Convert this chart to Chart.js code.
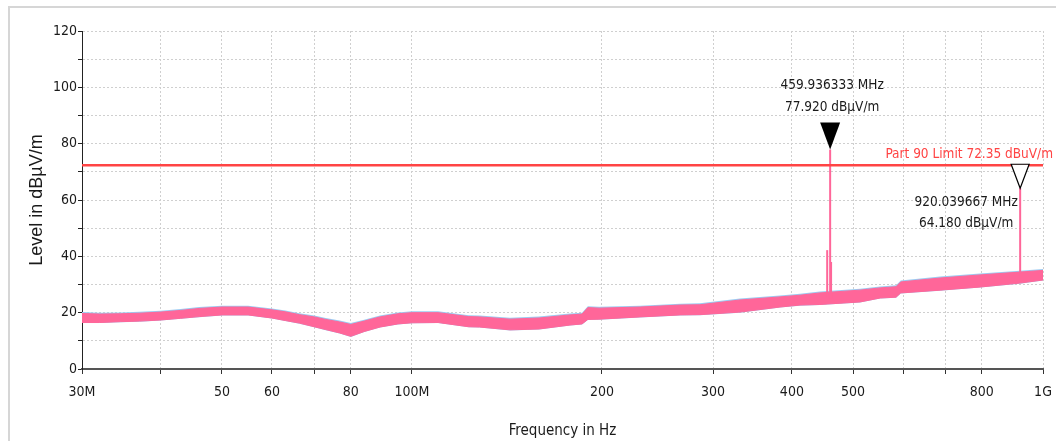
<!DOCTYPE html>
<html>
<head>
<meta charset="utf-8">
<title>Radiated emission scan</title>
<script src="https://cdn.jsdelivr.net/npm/chart.js@4.4.0/dist/chart.umd.min.js"></script>
<style>
  html, body { margin: 0; padding: 0; background: #fff; }
  #wrap { position: relative; width: 1056px; height: 441px; overflow: hidden; }
  #frame { position: absolute; left: 8px; top: 6px; width: 1100px; height: 500px;
           border-left: 2px solid #d6d6d6; border-top: 2px solid #d6d6d6; }
  canvas { position: absolute; left: 0; top: 0; }
</style>
</head>
<body>
<div id="wrap">
  <div id="frame"></div>
  <canvas id="scanChart" width="1056" height="441"></canvas>
</div>
<script>
// frequency axis (MHz) and tick labels
const xTickValues = [30, 40, 50, 60, 70, 80, 100, 200, 300, 400, 500, 600, 700, 800, 1000];
const xTickLabels = ['30M', '', '50', '60', '', '80', '100M', '200', '300', '400', '500', '', '', '800', '1G'];

// noise floor envelope (MHz / dBµV/m)
const scanFreqs = [30, 32, 34.5, 37, 40, 43, 46, 50, 55, 60, 63, 66.3, 70, 73, 76.8, 80, 84, 89, 95, 100,
                   110, 123, 128, 143, 159, 178, 186, 190, 198, 230, 266, 286, 331, 383, 412, 443, 513,
                   552, 585, 595, 687, 795, 919, 1000];
const scanUpper = [19.7, 19.5, 19.6, 19.8, 20.2, 20.8, 21.5, 22.0, 22.0, 21.0, 20.3, 19.3, 18.5, 17.6, 16.7,
                   15.8, 17.0, 18.5, 19.6, 20.0, 20.0, 18.6, 18.5, 17.7, 18.1, 19.2, 19.5, 21.8, 21.6, 22.0,
                   22.7, 22.8, 24.5, 25.6, 26.2, 27.0, 28.0, 28.8, 29.2, 30.9, 32.3, 33.4, 34.4, 35.0];
const scanLower = [16.5, 16.5, 16.8, 17.0, 17.4, 18.0, 18.6, 19.2, 19.2, 18.1, 17.2, 16.3, 15.0, 14.0, 12.8,
                   11.6, 13.3, 14.9, 16.0, 16.4, 16.5, 15.0, 14.9, 13.9, 14.2, 15.6, 16.0, 17.6, 17.7, 18.5,
                   19.2, 19.3, 20.2, 22.0, 22.7, 22.9, 23.8, 25.2, 25.5, 27.0, 28.0, 29.1, 30.5, 31.6];

// narrow emissions sticking out of the floor
const spikeFreqs = [455.0, 459.936333, 461.5, 920.039667];
const spikeBases = [25.0, 25.0, 25.0, 33.0];
const spikeTops = [42.2, 77.92, 38.0, 64.18];

// markers and limit
const markerFreqs = [459.936333, 920.039667];
const markerLevels = [77.92, 64.18];
const limitLevel = 72.35;
const limitText = 'Part 90 Limit 72.35 dBuV/m';

const NARROW = "'Liberation Sans Narrow', 'Arial Narrow', 'DejaVu Sans Condensed', sans-serif";
const PINK = '#ff6699';
const BLUE = '#9ccbf2';
const RED = '#ff4444';

function band(values, shift) {
    return scanFreqs.map(function (f, i) { return { x: f, y: values[i] + shift }; });
}

const datasets = [
    { data: [{ x: 30, y: limitLevel }, { x: 1000, y: limitLevel }], borderColor: RED, borderWidth: 2.5, order: 0 },
    { data: band(scanLower, -0.2), borderColor: BLUE, borderWidth: 0, order: 6 },
    { data: band(scanUpper, 0.5), borderColor: BLUE, backgroundColor: BLUE, borderWidth: 0, fill: '-1', order: 5 },
    { data: band(scanLower, 0), borderColor: PINK, borderWidth: 1, order: 4 },
    { data: band(scanUpper, 0), borderColor: PINK, backgroundColor: PINK, borderWidth: 1, fill: '-1', order: 3 }
];
spikeFreqs.forEach(function (f, i) {
    datasets.push({
        data: [{ x: f, y: spikeBases[i] }, { x: f, y: spikeTops[i] }],
        borderColor: PINK, borderWidth: 2, order: 1
    });
});

// marker triangles, marker readouts and the limit caption
const markerPlugin = {
    id: 'markers',
    afterDatasetsDraw(chart) {
        const ctx = chart.ctx;
        const xs = chart.scales.x, ys = chart.scales.y;
        ctx.save();
        markerFreqs.forEach(function (f, i) {
            const px = xs.getPixelForValue(f);
            const py = ys.getPixelForValue(markerLevels[i]);
            const filled = i === 0;
            const w = filled ? 10 : 9, h = filled ? 27 : 24;
            ctx.beginPath();
            ctx.moveTo(px - w, py - h);
            ctx.lineTo(px + w, py - h);
            ctx.lineTo(px, py);
            ctx.closePath();
            if (filled) {
                ctx.fillStyle = '#000';
                ctx.fill();
            } else {
                ctx.fillStyle = '#fff';
                ctx.fill();
                ctx.strokeStyle = '#000';
                ctx.lineWidth = 1.2;
                ctx.stroke();
            }
            const l1 = f.toFixed(6) + ' MHz';
            const l2 = markerLevels[i].toFixed(3) + ' dB\u00b5V/m';
            ctx.fillStyle = '#1a1a1a';
            ctx.font = '13.5px ' + NARROW;
            ctx.textAlign = 'center';
            ctx.textBaseline = 'middle';
            if (filled) {
                ctx.fillText(l1, px + 2, py - 64);
                ctx.fillText(l2, px + 2, py - 42);
            } else {
                ctx.fillText(l1, px - 54, py + 14);
                ctx.fillText(l2, px - 54, py + 35);
            }
        });
        ctx.fillStyle = RED;
        ctx.font = '13.5px ' + NARROW;
        ctx.textAlign = 'right';
        ctx.textBaseline = 'middle';
        ctx.fillText(limitText, chart.chartArea.right + 10, ys.getPixelForValue(limitLevel) - 11);
        ctx.restore();
    }
};

new Chart(document.getElementById('scanChart'), {
    type: 'line',
    data: { datasets: datasets },
    plugins: [markerPlugin],
    options: {
        responsive: false,
        animation: false,
        parsing: false,
        layout: { padding: { left: 0, right: 13, top: 31, bottom: 0 } },
        elements: { point: { radius: 0 }, line: { tension: 0 } },
        plugins: { legend: { display: false }, tooltip: { enabled: false } },
        scales: {
            x: {
                type: 'logarithmic',
                min: 30,
                max: 1000,
                afterBuildTicks: function (s) {
                    s.ticks = xTickValues.map(function (v) { return { value: v }; });
                },
                afterFit: function (s) {
                    s.height = 72;
                    s.paddingLeft = 0;
                    s.paddingRight = 0;
                },
                ticks: {
                    autoSkip: false,
                    maxRotation: 0,
                    padding: 10,
                    color: '#1a1a1a',
                    font: { family: NARROW, size: 14 },
                    callback: function (v, i) { return xTickLabels[i]; }
                },
                grid: { color: '#cfcfcf', tickColor: '#333', tickLength: 5, lineWidth: 1 },
                border: { color: '#555', width: 2, dash: [2, 2] },
                title: {
                    display: true,
                    text: 'Frequency in Hz',
                    color: '#1a1a1a',
                    font: { family: NARROW, size: 15 },
                    padding: { top: 0, bottom: 1 }
                }
            },
            y: {
                min: 0,
                max: 120,
                afterFit: function (s) { s.width = 82; },
                ticks: {
                    stepSize: 10,
                    padding: 1,
                    color: '#1a1a1a',
                    font: { family: NARROW, size: 14 },
                    callback: function (v) { return v % 20 === 0 ? v : ''; }
                },
                grid: { color: '#cfcfcf', tickColor: '#222', tickLength: 4, lineWidth: 1 },
                border: { color: '#222', width: 1, dash: [2, 2] },
                title: {
                    display: true,
                    text: 'Level in dB\u00b5V/m',
                    color: '#1a1a1a',
                    font: { family: "'Liberation Sans', Arial, sans-serif", size: 18 },
                    padding: { top: 26, bottom: 0 }
                }
            }
        }
    }
});
</script>
</body>
</html>
